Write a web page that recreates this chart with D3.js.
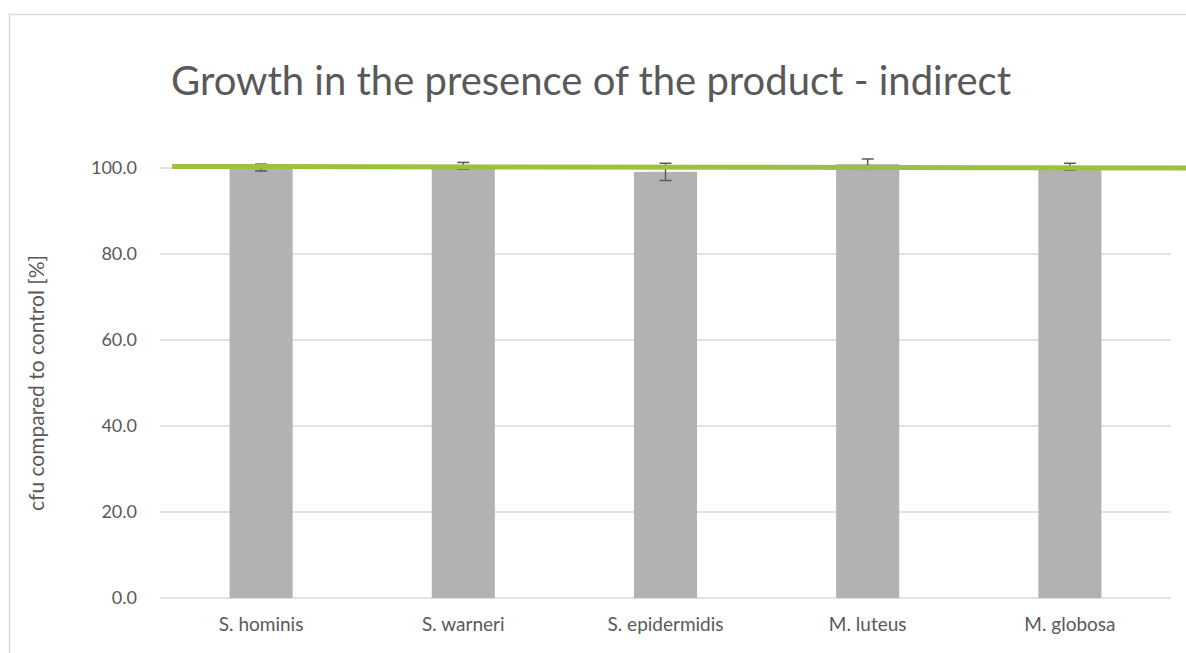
<!DOCTYPE html>
<html><head><meta charset="utf-8">
<script src="https://cdn.jsdelivr.net/npm/d3@7"></script>
<style>body{margin:0;background:#fff;}svg{display:block;font-family:Lato,"Open Sans",sans-serif;}</style>
</head><body><svg id="c" width="1186" height="653"></svg>
<script>
const categories = ["S. hominis","S. warneri","S. epidermidis","M. luteus","M. globosa"];
const values = [100.1, 100.5, 99.1, 100.9, 100.3];
const errors = [0.8, 0.8, 2.0, 1.2, 0.8];
const yTicks = [0,20,40,60,80,100];
const refLine = [100.35, 100.0];

(function(){
const svg = d3.select("#c");
const plotTop=168, plotBottom=598;

svg.append("rect").attr("x",9.5).attr("y",14.5).attr("width",1200).attr("height",700)
  .attr("fill","#fff").attr("stroke","#d9d9d9").attr("stroke-width",1.5);

const x=d3.scaleBand().domain(categories).range([160,1171]).paddingInner(0.688).paddingOuter(0.344);
const y=d3.scaleLinear().domain([0,100]).range([plotBottom,plotTop]);

svg.append("g").selectAll("line").data(yTicks).join("line")
  .attr("x1",160).attr("x2",1171).attr("y1",d=>y(d)).attr("y2",d=>y(d))
  .attr("stroke","#d9d9d9").attr("stroke-width",1.3);

svg.append("g").selectAll("rect").data(categories).join("rect")
  .attr("x",d=>x(d)).attr("width",x.bandwidth())
  .attr("y",(d,i)=>y(values[i])).attr("height",(d,i)=>y(0)-y(values[i]))
  .attr("fill","#b2b2b2");

const eb=svg.append("g").attr("stroke","#595959").attr("stroke-width",1.5);
categories.forEach((c,i)=>{
  const cx=x(c)+x.bandwidth()/2, y1=y(values[i]+errors[i]), y2=y(values[i]-errors[i]);
  eb.append("line").attr("x1",cx).attr("x2",cx).attr("y1",y1).attr("y2",y2);
  eb.append("line").attr("x1",cx-6).attr("x2",cx+6).attr("y1",y1).attr("y2",y1);
  eb.append("line").attr("x1",cx-6).attr("x2",cx+6).attr("y1",y2).attr("y2",y2);
});

const lx=d3.scaleLinear().domain([0,1]).range([172,1186]);
svg.append("path").datum(refLine)
  .attr("d",d3.line().x((d,i)=>lx(i)).y(d=>y(d)))
  .attr("stroke","#9bc23c").attr("stroke-width",5).attr("fill","none");

svg.append("g").selectAll("text").data(yTicks).join("text")
  .attr("x",137).attr("y",d=>y(d)).attr("dy","0.35em").attr("text-anchor","end")
  .attr("font-size",18).attr("fill","#595959").text(d=>d.toFixed(1));

svg.append("g").selectAll("text").data(categories).join("text")
  .attr("x",d=>x(d)+x.bandwidth()/2).attr("y",631).attr("text-anchor","middle")
  .attr("font-size",19).attr("fill","#595959").text(d=>d);

svg.append("text").attr("transform","translate(37,383) rotate(-90)")
  .attr("text-anchor","middle").attr("dy","0.35em").attr("font-size",21).attr("fill","#595959")
  .text("cfu compared to control [%]");

svg.append("text").attr("x",591).attr("y",95).attr("text-anchor","middle")
  .attr("font-size",40).attr("fill","#595959")
  .text("Growth in the presence of the product - indirect");
})();
</script></body></html>
